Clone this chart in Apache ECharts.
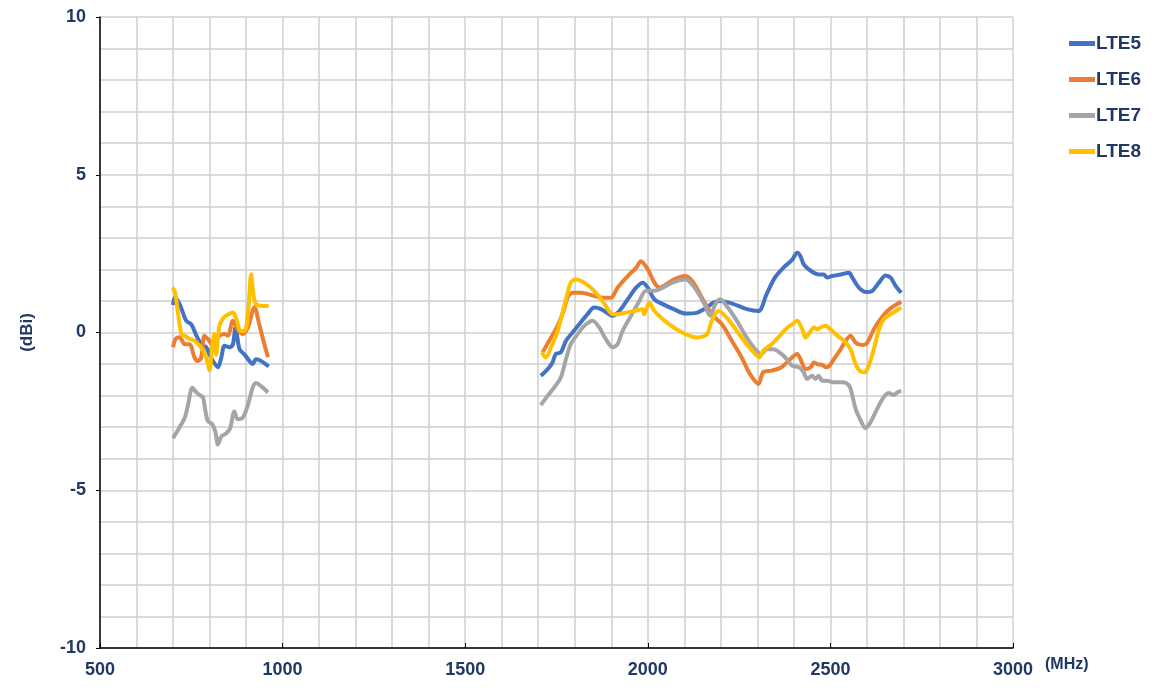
<!DOCTYPE html>
<html>
<head>
<meta charset="utf-8">
<script src="https://cdn.jsdelivr.net/npm/echarts@6/dist/echarts.min.js"></script>
<style>
html,body{margin:0;padding:0;background:#fff;}
#main{width:1156px;height:697px;}
</style>
</head>
<body>
<div id="main"></div>
<script>
// 频率 (MHz) / 增益 (dBi)，两段：低频 700-960，高频 1710-2690
var lte5Low = [[700,0.87],[705,1.1],[718,0.9],[736,0.37],[750,0.26],[764,-0.1],[777,-0.37],[791,-0.47],[800,-0.7],[809,-0.9],[823,-1.1],[832,-0.8],[841,-0.42],[855,-0.47],[864,-0.37],[871,0.16],[882,-0.53],[896,-0.7],[909,-0.9],[918,-1.0],[927,-0.85],[941,-0.9],[962,-1.08]];
var lte5High = [[1707,-1.37],[1726,-1.16],[1739,-0.95],[1748,-0.68],[1762,-0.63],[1776,-0.26],[1794,0],[1812,0.26],[1835,0.58],[1853,0.79],[1872,0.74],[1894,0.58],[1904,0.53],[1922,0.68],[1945,1.05],[1968,1.42],[1986,1.58],[2000,1.42],[2018,1.05],[2041,0.9],[2071,0.74],[2103,0.6],[2135,0.63],[2162,0.79],[2180,0.95],[2200,1.0],[2235,0.9],[2271,0.74],[2303,0.68],[2325,1.21],[2348,1.74],[2371,2.05],[2395,2.3],[2409,2.53],[2418,2.42],[2427,2.16],[2441,2.0],[2455,1.89],[2468,1.84],[2482,1.84],[2491,1.74],[2505,1.79],[2528,1.84],[2551,1.89],[2560,1.74],[2578,1.42],[2598,1.28],[2615,1.32],[2633,1.58],[2651,1.81],[2665,1.74],[2679,1.47],[2694,1.26]];

var lte6Low = [[700,-0.47],[707,-0.2],[718,-0.15],[732,-0.37],[745,-0.37],[759,-0.8],[768,-0.9],[777,-0.8],[786,-0.1],[795,-0.2],[807,-0.37],[818,-0.2],[827,-0.1],[841,-0.05],[850,-0.1],[864,0.37],[877,0.1],[891,-0.05],[905,0.16],[923,0.8],[936,0.26],[950,-0.37],[960,-0.78]];
var lte6High = [[1712,-0.63],[1730,-0.26],[1753,0.21],[1771,0.74],[1780,1.1],[1794,1.26],[1817,1.26],[1853,1.16],[1876,1.1],[1899,1.1],[1917,1.42],[1945,1.79],[1968,2.05],[1981,2.26],[2000,2.0],[2018,1.58],[2032,1.42],[2071,1.68],[2103,1.79],[2125,1.58],[2153,1.0],[2175,0.58],[2203,0.26],[2230,-0.26],[2257,-0.79],[2280,-1.32],[2303,-1.63],[2316,-1.26],[2339,-1.21],[2366,-1.1],[2395,-0.79],[2409,-0.68],[2418,-0.84],[2432,-1.16],[2446,-1.1],[2455,-0.95],[2464,-1.0],[2478,-1.03],[2487,-1.1],[2496,-1.07],[2510,-0.84],[2528,-0.53],[2542,-0.26],[2555,-0.1],[2569,-0.32],[2587,-0.4],[2601,-0.32],[2619,0.1],[2637,0.42],[2656,0.68],[2674,0.84],[2694,0.97]];

var lte7Low = [[700,-3.35],[718,-3.0],[732,-2.7],[741,-2.3],[753,-1.75],[764,-1.9],[775,-2.0],[782,-2.05],[786,-2.3],[795,-2.8],[807,-2.9],[816,-3.15],[823,-3.55],[832,-3.3],[845,-3.2],[856,-3.05],[868,-2.5],[877,-2.75],[891,-2.7],[905,-2.3],[918,-1.75],[927,-1.6],[941,-1.7],[960,-1.9]];
var lte7High = [[1707,-2.3],[1726,-2.0],[1744,-1.74],[1762,-1.42],[1776,-0.84],[1789,-0.37],[1808,-0.05],[1826,0.21],[1849,0.37],[1867,0.16],[1885,-0.21],[1904,-0.47],[1917,-0.37],[1931,0.05],[1954,0.53],[1977,1.0],[1995,1.32],[2018,1.32],[2041,1.42],[2071,1.6],[2103,1.68],[2125,1.47],[2153,0.95],[2171,0.53],[2185,0.9],[2198,1.05],[2216,0.84],[2244,0.37],[2271,-0.16],[2298,-0.58],[2312,-0.68],[2325,-0.53],[2344,-0.53],[2366,-0.68],[2380,-0.84],[2395,-1.05],[2414,-1.1],[2427,-1.26],[2436,-1.47],[2450,-1.37],[2459,-1.47],[2468,-1.37],[2478,-1.53],[2491,-1.53],[2510,-1.58],[2532,-1.58],[2551,-1.68],[2560,-2.0],[2569,-2.42],[2583,-2.79],[2596,-3.03],[2610,-2.84],[2628,-2.42],[2646,-2.05],[2660,-1.92],[2674,-1.98],[2683,-1.9],[2694,-1.84]];

var lte8Low = [[698,1.42],[705,1.3],[714,0.58],[723,-0.05],[732,-0.1],[745,-0.2],[759,-0.26],[773,-0.42],[782,-0.58],[791,-0.8],[800,-1.2],[807,-0.47],[813,-0.05],[818,-0.7],[827,0.2],[838,0.47],[852,0.58],[864,0.63],[875,0.37],[884,0.05],[896,0.05],[905,0.58],[914,1.85],[920,1.2],[927,0.9],[945,0.84],[962,0.84]];
var lte8High = [[1709,-0.63],[1721,-0.79],[1735,-0.47],[1753,0.05],[1776,1.05],[1789,1.58],[1803,1.68],[1826,1.58],[1853,1.32],[1876,1.0],[1894,0.68],[1904,0.58],[1917,0.58],[1940,0.63],[1963,0.68],[1986,0.74],[1990,0.58],[2004,0.95],[2018,0.68],[2041,0.42],[2071,0.16],[2103,-0.05],[2135,-0.16],[2162,-0.05],[2175,0.37],[2194,0.68],[2216,0.47],[2244,0.05],[2271,-0.37],[2294,-0.68],[2305,-0.79],[2316,-0.58],[2339,-0.37],[2362,-0.1],[2377,0.1],[2395,0.26],[2409,0.37],[2423,0.1],[2432,-0.16],[2446,0.05],[2455,0.16],[2464,0.1],[2473,0.16],[2487,0.21],[2500,0.1],[2519,-0.1],[2537,-0.26],[2555,-0.53],[2569,-1.0],[2583,-1.24],[2595,-1.26],[2605,-1.05],[2619,-0.53],[2633,0.1],[2646,0.42],[2665,0.58],[2679,0.68],[2694,0.79]];

var seriesNames = ["LTE5","LTE6","LTE7","LTE8"];
var seriesColors = ["#4472C4","#ED7D31","#A5A5A5","#FFC000"];
var bands = [[lte5Low,lte5High],[lte6Low,lte6High],[lte7Low,lte7High],[lte8Low,lte8High]];

var navy = "#1F3864";
var gridColor = "#D0D0D0";

var series = [];
seriesNames.forEach(function(name,i){
    // 两段之间放一个空点把线断开
    var data = bands[i][0].concat([[1300,'-']]).concat(bands[i][1]);
    series.push({
        name:name,
        type:"line",
        data:data,
        smooth:0.3,
        connectNulls:false,
        showSymbol:false,
        symbol:"none",
        lineStyle:{color:seriesColors[i],width:4},
        itemStyle:{color:seriesColors[i]}
    });
});

var option = {
    animation:false,
    textStyle:{fontFamily:"Liberation Sans, Arial, sans-serif"},
    grid:{left:100,right:143,top:17,bottom:49,containLabel:false},
    legend:{
        orient:"vertical",
        left:1064,
        top:29,
        itemWidth:26,
        itemHeight:5,
        itemGap:17,
        icon:"rect",
        data:seriesNames,
        textStyle:{color:navy,fontSize:19,fontWeight:"bold",padding:[0,0,0,-4]}
    },
    xAxis:{
        type:"value",
        min:500,
        max:3000,
        interval:500,
        name:"(MHz)",
        nameLocation:"end",
        nameGap:32,
        nameTextStyle:{color:navy,fontSize:16,fontWeight:"bold",verticalAlign:"top",padding:[9,0,0,0]},
        axisLine:{show:true,onZero:false,lineStyle:{color:"#000",width:1.5}},
        axisTick:{show:true,inside:true,length:5,lineStyle:{color:"#000"}},
        axisLabel:{color:navy,fontSize:18,fontWeight:"bold",margin:13,formatter:function(v){return String(v);}},
        splitLine:{show:true,lineStyle:{color:gridColor,width:1.5}},
        minorTick:{show:false,splitNumber:5},
        minorSplitLine:{show:true,lineStyle:{color:gridColor,width:1.5}}
    },
    yAxis:{
        type:"value",
        min:-10,
        max:10,
        interval:5,
        name:"(dBi)",
        nameLocation:"middle",
        nameGap:64,
        nameRotate:90,
        nameTextStyle:{color:navy,fontSize:17,fontWeight:"bold"},
        axisLine:{show:true,onZero:false,lineStyle:{color:"#000",width:1.5}},
        axisTick:{show:true,length:4,lineStyle:{color:"#000"}},
        axisLabel:{color:navy,fontSize:18,fontWeight:"bold",margin:14},
        splitLine:{show:true,lineStyle:{color:gridColor,width:1.5}},
        minorTick:{show:false,splitNumber:5},
        minorSplitLine:{show:true,lineStyle:{color:gridColor,width:1.5}}
    },
    series:series
};

var chart = echarts.init(document.getElementById("main"));
chart.setOption(option);
</script>
</body>
</html>
